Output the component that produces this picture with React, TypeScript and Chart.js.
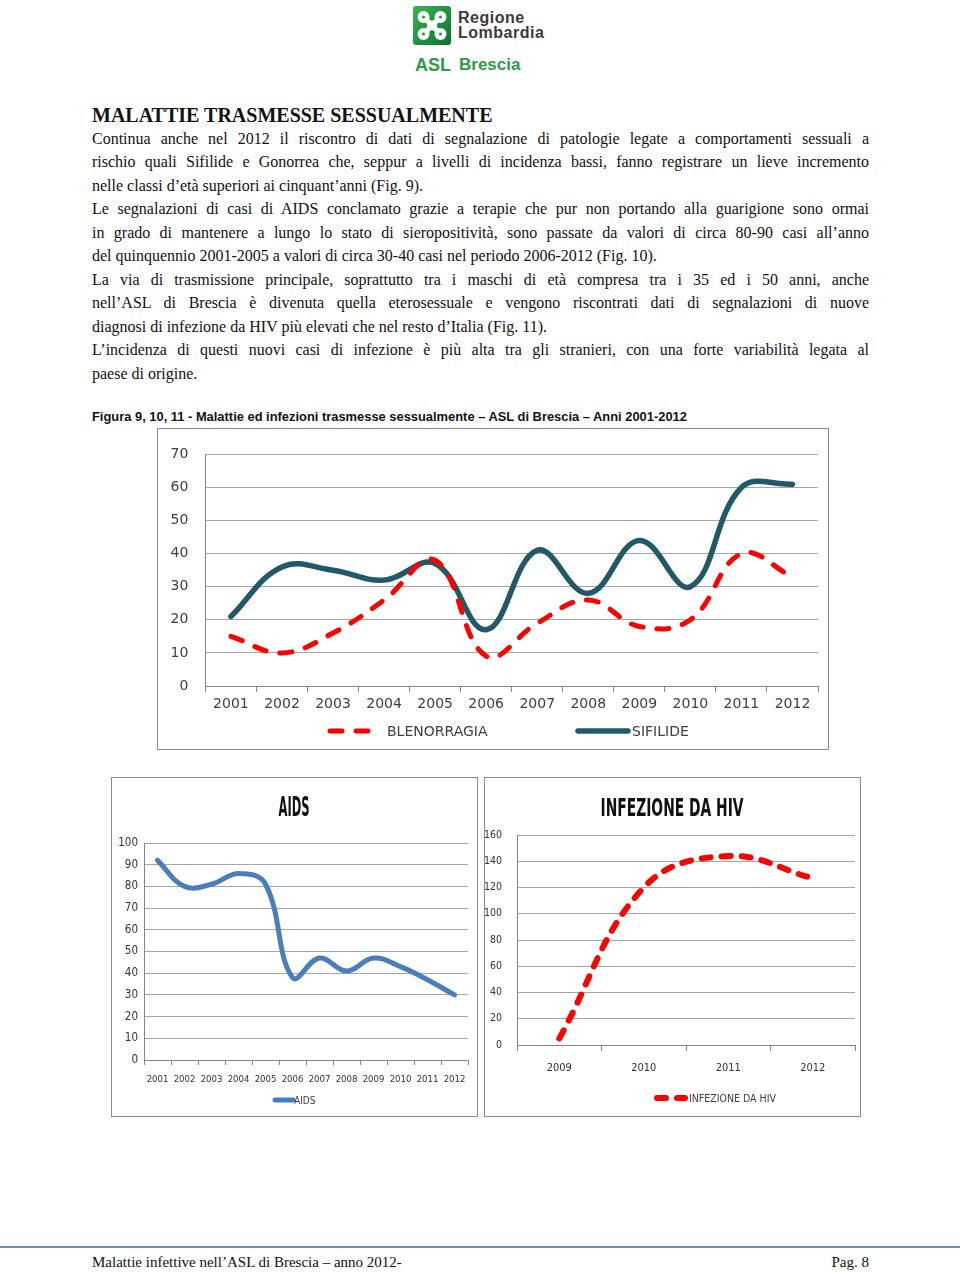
import React, { useEffect, useRef } from "react";
import { Chart, registerables } from "chart.js";

Chart.register(...registerables);

// ---------------- data ----------------
const fig9Years = ["2001", "2002", "2003", "2004", "2005", "2006", "2007", "2008", "2009", "2010", "2011", "2012"];
const blenorragiaCases = [15, 10, 16, 26, 38, 9, 19, 26, 18, 20, 40, 33];
const sifilideCases = [21, 36, 35, 32, 37, 17, 41, 28, 44, 30, 60, 61];
const fig9YRange = [0, 70, 10];

const aidsYears = ["2001", "2002", "2003", "2004", "2005", "2006", "2007", "2008", "2009", "2010", "2011", "2012"];
const aidsCases = [92, 80, 81, 86, 81, 38, 47, 41, 47, 43, 37, 30];
const aidsYRange = [0, 100, 10];

const hivYears = ["2009", "2010", "2011", "2012"];
const hivCases = [5, 120, 144, 127];
const hivYRange = [0, 160, 20];

const bodyLines: [string, boolean][] = [
  ["Continua anche nel 2012 il riscontro di dati di segnalazione di patologie legate a comportamenti sessuali a", true],
  ["rischio quali Sifilide e Gonorrea che, seppur a livelli di incidenza bassi, fanno registrare un lieve incremento", true],
  ["nelle classi d\u2019età superiori ai cinquant\u2019anni (Fig. 9).", false],
  ["Le segnalazioni di casi di AIDS conclamato grazie a terapie che pur non portando alla guarigione sono ormai", true],
  ["in grado di mantenere  a lungo lo stato di sieropositività, sono passate da valori di circa 80-90 casi all\u2019anno", true],
  ["del quinquennio 2001-2005 a valori di circa 30-40 casi nel periodo 2006-2012 (Fig. 10).", false],
  ["La via di trasmissione principale, soprattutto tra i maschi di età compresa tra i 35 ed i 50 anni, anche", true],
  ["nell\u2019ASL di Brescia è divenuta quella eterosessuale e vengono riscontrati dati di segnalazioni di nuove", true],
  ["diagnosi di infezione da HIV più elevati che nel resto d\u2019Italia (Fig. 11).", false],
  ["L\u2019incidenza di questi nuovi casi di infezione è più alta tra gli stranieri, con una forte variabilità legata al", true],
  ["paese di origine.", false],
];

// ---------------- plugins ----------------
const lineLegendPlugin = {
  id: "lineLegend",
  afterDraw(chart: any, _a: any, o: any) {
    if (!o || !o.items) return;
    const ctx = chart.ctx;
    o.items.forEach((it: any) => {
      const ds = chart.data.datasets[it.dataset];
      ctx.save();
      ctx.strokeStyle = ds.borderColor;
      ctx.lineWidth = ds.borderWidth;
      ctx.lineCap = ds.borderCapStyle || "butt";
      ctx.setLineDash(ds.borderDash || []);
      ctx.beginPath();
      ctx.moveTo(it.x, o.y);
      ctx.lineTo(it.x + it.len, o.y);
      ctx.stroke();
      ctx.setLineDash([]);
      ctx.fillStyle = o.color;
      ctx.font = o.font;
      ctx.textAlign = "left";
      ctx.textBaseline = "middle";
      ctx.fillText(ds.label, it.x + it.len + it.gap, o.y + 1);
      ctx.restore();
    });
  },
};

const squeezedTitlePlugin = {
  id: "squeezedTitle",
  afterDraw(chart: any, _a: any, o: any) {
    if (!o || !o.text) return;
    const ctx = chart.ctx;
    ctx.save();
    ctx.font = o.font;
    const w = ctx.measureText(o.text).width;
    ctx.translate(o.x, o.y);
    ctx.scale(o.width / w, 1);
    ctx.fillStyle = o.color;
    ctx.textAlign = "center";
    ctx.textBaseline = "middle";
    ctx.fillText(o.text, 0, 0);
    ctx.restore();
  },
};

const NARROW = "'Liberation Sans Narrow', 'DejaVu Sans Condensed', 'Liberation Sans', sans-serif";

// ---------------- configs ----------------
function fig9Config(): any {
  const tickFont = { family: "'DejaVu Sans', sans-serif", size: 14 };
  return {
    type: "line",
    data: {
      labels: fig9Years,
      datasets: [
        {
          label: "BLENORRAGIA",
          data: blenorragiaCases,
          borderColor: "#ff0000",
          borderWidth: 5,
          borderDash: [12, 14],
          borderCapStyle: "round",
          tension: 0.4,
          pointRadius: 0,
          fill: false,
        },
        {
          label: "SIFILIDE",
          data: sifilideCases,
          borderColor: "#215968",
          borderWidth: 5.5,
          borderCapStyle: "round",
          tension: 0.4,
          pointRadius: 0,
          fill: false,
        },
      ],
    },
    options: {
      responsive: false,
      animation: false,
      layout: { padding: { top: 15.5, right: 10, left: 0, bottom: 0 } },
      scales: {
        x: {
          offset: true,
          grid: { drawOnChartArea: false, drawTicks: true, tickLength: 6, color: "#868686", offset: true },
          border: { display: true, color: "#868686" },
          ticks: { font: tickFont, color: "#404040", padding: 3.6, maxRotation: 0, autoSkip: false },
          afterFit: (s: any) => { s.height = 63; },
        },
        y: {
          min: fig9YRange[0],
          max: fig9YRange[1],
          ticks: { stepSize: fig9YRange[2], font: tickFont, color: "#404040", padding: 17 },
          grid: { color: "#a6a6a6", drawTicks: false },
          border: { display: true, color: "#868686" },
          afterFit: (s: any) => { s.width = 47.4; },
        },
      },
      plugins: {
        legend: { display: false },
        title: { display: false },
        tooltip: { enabled: false },
        lineLegend: {
          y: 302,
          font: "14px 'DejaVu Sans', sans-serif",
          color: "#404040",
          items: [
            { dataset: 0, x: 172, len: 48, gap: 9 },
            { dataset: 1, x: 420, len: 50, gap: 4 },
          ],
        },
      },
    },
    plugins: [lineLegendPlugin],
  };
}

function aidsConfig(): any {
  return {
    type: "line",
    data: {
      labels: aidsYears,
      datasets: [
        {
          label: "AIDS",
          data: aidsCases,
          borderColor: "#4a7ebb",
          borderWidth: 5,
          borderCapStyle: "round",
          tension: 0.4,
          pointRadius: 0,
          fill: false,
        },
      ],
    },
    options: {
      responsive: false,
      animation: false,
      layout: { padding: { top: 65, right: 9, left: 0, bottom: 0 } },
      scales: {
        x: {
          offset: true,
          grid: { drawOnChartArea: false, drawTicks: true, tickLength: 5, color: "#868686", offset: true },
          border: { display: true, color: "#868686" },
          ticks: { font: { family: NARROW, size: 9.5 }, color: "#333333", padding: 9, maxRotation: 0, autoSkip: false },
          afterFit: (s: any) => { s.height = 56; },
        },
        y: {
          min: aidsYRange[0],
          max: aidsYRange[1],
          ticks: { stepSize: aidsYRange[2], font: { family: NARROW, size: 11.5 }, color: "#333333", padding: 6 },
          grid: { color: "#a6a6a6", drawTicks: false },
          border: { display: true, color: "#868686" },
          afterFit: (s: any) => { s.width = 32; },
        },
      },
      plugins: {
        legend: { display: false },
        title: { display: false },
        tooltip: { enabled: false },
        squeezedTitle: { text: "AIDS", x: 182, y: 31, width: 31, font: "bold 26px " + NARROW, color: "#111111" },
        lineLegend: {
          y: 322,
          font: "10px " + NARROW,
          color: "#404040",
          items: [{ dataset: 0, x: 163, len: 18, gap: 1 }],
        },
      },
    },
    plugins: [lineLegendPlugin, squeezedTitlePlugin],
  };
}

function hivConfig(): any {
  return {
    type: "line",
    data: {
      labels: hivYears,
      datasets: [
        {
          label: "INFEZIONE DA HIV",
          data: hivCases,
          borderColor: "#ff0000",
          borderWidth: 6,
          borderDash: [9, 11],
          borderCapStyle: "round",
          tension: 0.4,
          pointRadius: 0,
          fill: false,
        },
      ],
    },
    options: {
      responsive: false,
      animation: false,
      layout: { padding: { top: 57, right: 5, left: 0, bottom: 0 } },
      scales: {
        x: {
          offset: true,
          grid: { drawOnChartArea: false, drawTicks: true, tickLength: 6, color: "#868686", offset: true },
          border: { display: true, color: "#868686" },
          ticks: { font: { family: NARROW, size: 11 }, color: "#333333", padding: 10.4, maxRotation: 0, autoSkip: false },
          afterFit: (s: any) => { s.height = 71; },
        },
        y: {
          min: hivYRange[0],
          max: hivYRange[1],
          ticks: { stepSize: hivYRange[2], font: { family: NARROW, size: 10.5 }, color: "#333333", padding: 15 },
          grid: { color: "#a6a6a6", drawTicks: false },
          border: { display: true, color: "#868686" },
          afterFit: (s: any) => { s.width = 32; },
        },
      },
      plugins: {
        legend: { display: false },
        title: { display: false },
        tooltip: { enabled: false },
        squeezedTitle: { text: "INFEZIONE DA HIV", x: 187, y: 31, width: 143, font: "bold 25px " + NARROW, color: "#111111" },
        lineLegend: {
          y: 320,
          font: "10.5px " + NARROW,
          color: "#404040",
          items: [{ dataset: 0, x: 172, len: 28, gap: 4 }],
        },
      },
    },
    plugins: [lineLegendPlugin, squeezedTitlePlugin],
  };
}

// ---------------- components ----------------
function ChartBox(props: { left: number; top: number; width: number; height: number; make: () => any }) {
  const ref = useRef<HTMLCanvasElement>(null);
  useEffect(() => {
    const chart = new Chart(ref.current as HTMLCanvasElement, props.make());
    return () => chart.destroy();
  }, []);
  return (
    <div
      style={{
        position: "absolute",
        left: props.left,
        top: props.top,
        width: props.width,
        height: props.height,
        border: "1px solid #8c8c8c",
        background: "#fff",
      }}
    >
      <canvas
        ref={ref}
        width={props.width}
        height={props.height}
        style={{ display: "block", width: props.width, height: props.height }}
      />
    </div>
  );
}

function Logo() {
  return (
    <>
      <svg style={{ position: "absolute", left: 413, top: 6 }} width={38} height={39} viewBox="0 0 38 39">
        <defs>
          <linearGradient id="lg" x1="0" y1="0" x2="1" y2="1">
            <stop offset="0" stopColor="#3db24f" />
            <stop offset="1" stopColor="#0a7434" />
          </linearGradient>
        </defs>
        <rect x="0" y="0" width="38" height="39" rx="3" fill="url(#lg)" />
        <g fill="#ffffff">
          <circle cx="10.5" cy="11" r="6" />
          <circle cx="27.5" cy="11" r="6" />
          <circle cx="10.5" cy="28" r="6" />
          <circle cx="27.5" cy="28" r="6" />
          <circle cx="19" cy="19.5" r="5" />
          <rect x="16.5" y="5" width="5" height="29" rx="2.5" transform="rotate(45 19 19.5)" />
          <rect x="16.5" y="5" width="5" height="29" rx="2.5" transform="rotate(-45 19 19.5)" />
        </g>
        <g fill="#2a9a45">
          <circle cx="10.5" cy="11" r="1.6" />
          <circle cx="27.5" cy="11" r="1.6" />
          <circle cx="10.5" cy="28" r="1.6" />
          <circle cx="27.5" cy="28" r="1.6" />
        </g>
      </svg>
      <div
        style={{
          position: "absolute",
          left: 458,
          top: 11,
          fontFamily: "'Liberation Sans', Arial, sans-serif",
          fontWeight: 700,
          fontSize: 16,
          lineHeight: "14.5px",
          letterSpacing: 0.5,
          color: "#3a3a3a",
        }}
      >
        <div>Regione</div>
        <div>Lombardia</div>
      </div>
      <div
        style={{
          position: "absolute",
          left: 415,
          top: 54,
          fontFamily: "'Liberation Sans', Arial, sans-serif",
          fontWeight: 700,
          fontSize: 18,
          lineHeight: "22px",
          color: "#2f9a47",
          whiteSpace: "nowrap",
        }}
      >
        ASL
        <span style={{ position: "absolute", left: 44, top: 0, fontSize: 17 }}>Brescia</span>
      </div>
    </>
  );
}

export default function App() {
  return (
    <div
      style={{
        position: "absolute",
        left: 0,
        top: 0,
        width: 960,
        height: 1273,
        overflow: "hidden",
        background: "#ffffff",
        fontFamily: "'Liberation Serif', 'Times New Roman', serif",
        color: "#111111",
      }}
    >
      <Logo />
      <div
        style={{
          position: "absolute",
          left: 92,
          top: 103,
          fontSize: 20,
          fontWeight: 700,
          lineHeight: "24px",
          whiteSpace: "nowrap",
        }}
      >
        MALATTIE TRASMESSE SESSUALMENTE
      </div>
      <div style={{ position: "absolute", left: 92, top: 126.5, width: 777, fontSize: 16, lineHeight: "23.5px" }}>
        {bodyLines.map(([t, j], i) => (
          <div key={i} style={{ textAlign: j ? "justify" : "left", textAlignLast: j ? "justify" : "left" } as any}>
            {t}
          </div>
        ))}
      </div>
      <div
        style={{
          position: "absolute",
          left: 92,
          top: 409,
          fontFamily: "'Liberation Sans', Arial, sans-serif",
          fontWeight: 700,
          fontSize: 12.9,
          lineHeight: "16px",
          whiteSpace: "nowrap",
        }}
      >
        Figura 9, 10, 11 - Malattie ed infezioni trasmesse sessualmente {"\u2013"} ASL di Brescia {"\u2013"} Anni 2001-2012
      </div>

      <ChartBox left={157} top={428} width={670} height={320} make={fig9Config} />
      <ChartBox left={111} top={777} width={365} height={338} make={aidsConfig} />
      <ChartBox left={484} top={777} width={375} height={338} make={hivConfig} />

      <div style={{ position: "absolute", left: 0, top: 1246, width: 960, height: 2, background: "#6a93a8" }} />
      <div
        style={{
          position: "absolute",
          left: 92,
          top: 1253,
          fontSize: 15,
          lineHeight: "18px",
          whiteSpace: "nowrap",
        }}
      >
        Malattie infettive nell{"\u2019"}ASL di Brescia {"\u2013"} anno 2012-
      </div>
      <div
        style={{
          position: "absolute",
          right: 91,
          top: 1253,
          fontSize: 15,
          lineHeight: "18px",
          whiteSpace: "nowrap",
        }}
      >
        Pag. 8
      </div>
    </div>
  );
}
